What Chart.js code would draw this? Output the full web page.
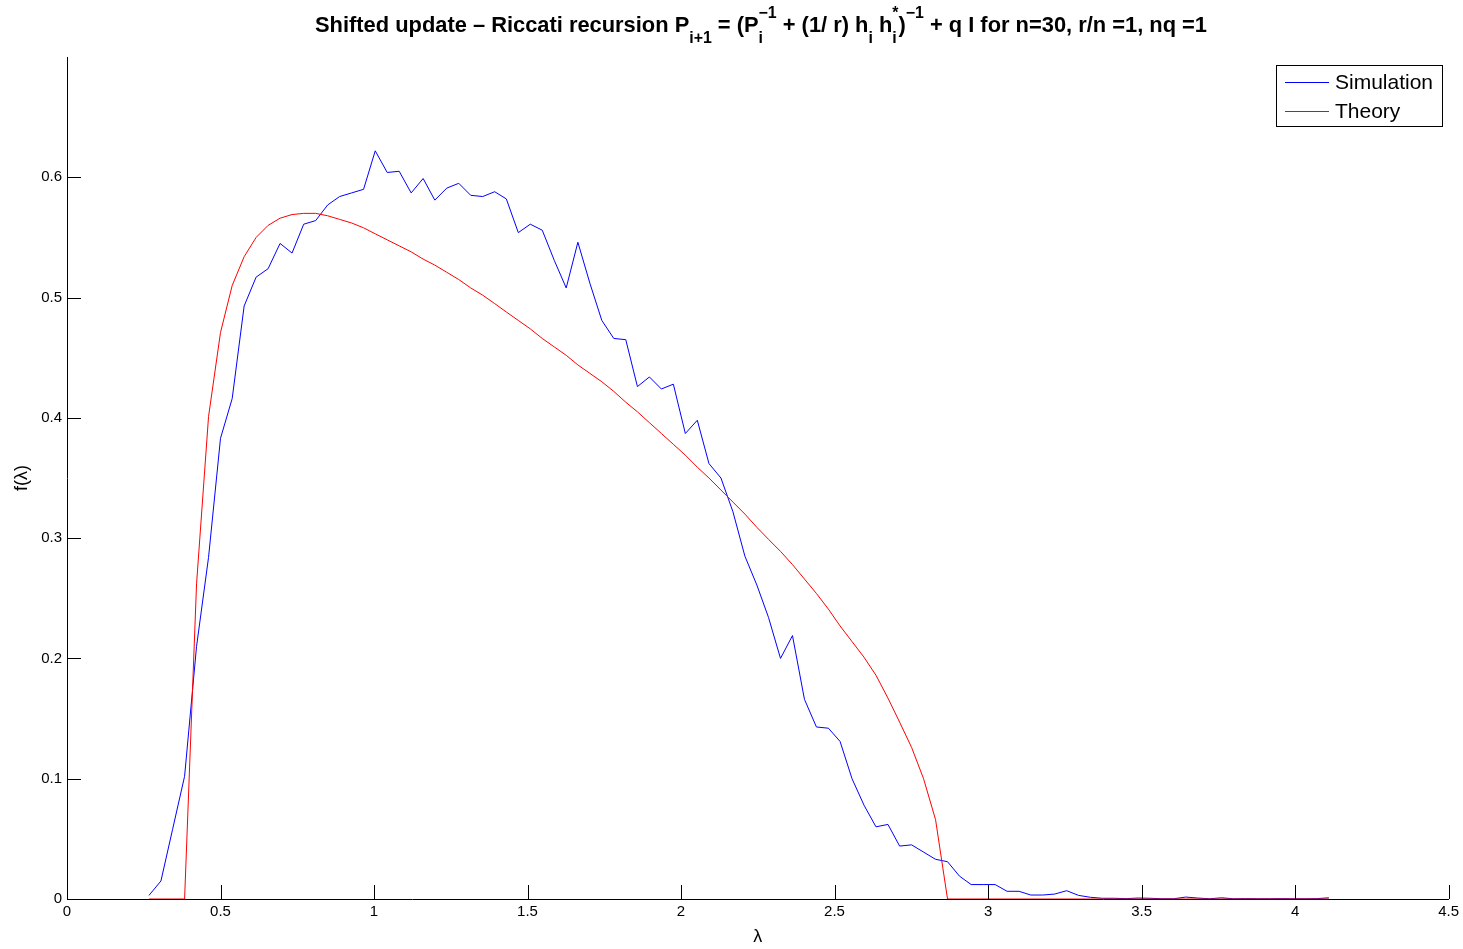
<!DOCTYPE html>
<html>
<head>
<meta charset="utf-8">
<title>Shifted update - Riccati recursion</title>
<script src="https://cdn.jsdelivr.net/npm/chart.js@4"></script>
<style>
  body { margin: 0; background: #fff; }
  canvas { display: block; }
</style>
</head>
<body>
<canvas id="chart" width="1463" height="949"></canvas>
<script>
// bin centres (lambda) shared by both curves
const lambdas = [
  0.267, 0.306, 0.344, 0.383, 0.422, 0.461, 0.500, 0.538, 0.577, 0.616,
  0.655, 0.694, 0.733, 0.771, 0.810, 0.849, 0.888, 0.927, 0.966, 1.004,
  1.043, 1.082, 1.121, 1.160, 1.198, 1.237, 1.276, 1.315, 1.354, 1.393,
  1.431, 1.470, 1.509, 1.548, 1.587, 1.626, 1.664, 1.703, 1.742, 1.781,
  1.820, 1.858, 1.897, 1.936, 1.975, 2.014, 2.053, 2.091, 2.130, 2.169,
  2.208, 2.247, 2.285, 2.324, 2.363, 2.402, 2.441, 2.480, 2.518, 2.557,
  2.596, 2.635, 2.674, 2.712, 2.751, 2.790, 2.829, 2.868, 2.907, 2.945,
  2.984, 3.023, 3.062, 3.101, 3.139, 3.178, 3.217, 3.256, 3.295, 3.334,
  3.372, 3.411, 3.450, 3.489, 3.528, 3.566, 3.605, 3.644, 3.683, 3.722,
  3.761, 3.799, 3.838, 3.877, 3.916, 3.955, 3.993, 4.032, 4.071, 4.110
];

const simulation = [
  0.003, 0.015, 0.058, 0.102, 0.210, 0.284, 0.383, 0.416, 0.493, 0.517,
  0.524, 0.545, 0.537, 0.561, 0.564, 0.577, 0.584, 0.587, 0.590, 0.622,
  0.604, 0.605, 0.587, 0.599, 0.581, 0.591, 0.595, 0.585, 0.584, 0.588,
  0.582, 0.554, 0.561, 0.556, 0.531, 0.508, 0.546, 0.512, 0.481, 0.466,
  0.465, 0.426, 0.434, 0.424, 0.428, 0.387, 0.398, 0.362, 0.350, 0.322,
  0.285, 0.261, 0.234, 0.200, 0.219, 0.166, 0.143, 0.142, 0.131, 0.100,
  0.078, 0.060, 0.062, 0.044, 0.045, 0.039, 0.033, 0.031, 0.019, 0.012,
  0.012, 0.012, 0.0064, 0.0064, 0.0033, 0.0033, 0.0041, 0.0069, 0.003, 0.0014,
  0.0006, 0.0006, 0.0003, 0.0008, 0.0006, 0.0002, 0.0002, 0.0016, 0.0008, 0.0002,
  0.001, 0.0002, 0.0003, 0.0002, 0.0002, 0.0003, 0.0002, 0.0002, 0.0003, 0.001
];

const theory = [
  0, 0, 0, 0, 0.262, 0.401, 0.471, 0.510, 0.534, 0.550,
  0.560, 0.566, 0.569, 0.570, 0.570, 0.568, 0.565, 0.562, 0.558, 0.553,
  0.548, 0.543, 0.538, 0.532, 0.527, 0.521, 0.515, 0.508, 0.502, 0.495,
  0.488, 0.481, 0.474, 0.466, 0.459, 0.452, 0.444, 0.437, 0.430, 0.422,
  0.413, 0.405, 0.396, 0.387, 0.378, 0.369, 0.359, 0.350, 0.340, 0.330,
  0.320, 0.309, 0.299, 0.289, 0.278, 0.266, 0.254, 0.241, 0.227, 0.214,
  0.201, 0.186, 0.167, 0.147, 0.126, 0.100, 0.066, 0, 0, 0,
  0, 0, 0, 0, 0, 0, 0, 0, 0, 0,
  0, 0, 0, 0, 0, 0, 0, 0, 0, 0,
  0, 0, 0, 0, 0, 0, 0, 0, 0, 0
];

const xTickValues = [0, 0.5, 1, 1.5, 2, 2.5, 3, 3.5, 4, 4.5];
const yTickValues = [0, 0.1, 0.2, 0.3, 0.4, 0.5, 0.6];

const seriesNames = ['Simulation', 'Theory'];
const seriesColors = ['#0000ff', '#ff0000'];

const titleParts = [
  { text: 'Shifted update \u2013 Riccati recursion P', sub: 'i+1' },
  { text: ' = (P', sub: 'i', sup: '\u22121' },
  { text: ' + (1/ r) h', sub: 'i' },
  { text: ' h', sub: 'i', sup: '*' },
  { text: ')', sup: '\u22121' },
  { text: ' + q I for n=30, r/n =1, nq =1' }
];

const FONT = '"Liberation Sans", Arial, Helvetica, sans-serif';

// title with sub/superscripts, squeezed to the width of the original
const richTitle = {
  id: 'richTitle',
  afterDraw(chart) {
    const ctx = chart.ctx;
    const big = 'bold 22px ' + FONT;
    const small = 'bold 16px ' + FONT;
    let total = 0;
    titleParts.forEach(p => {
      ctx.font = big;
      total += ctx.measureText(p.text).width;
      ctx.font = small;
      total += Math.max(p.sub ? ctx.measureText(p.sub).width : 0,
                        p.sup ? ctx.measureText(p.sup).width : 0);
    });
    const targetW = 892;
    ctx.save();
    ctx.translate(761 - targetW / 2, 0);
    ctx.scale(targetW / total, 1);
    ctx.fillStyle = '#000';
    ctx.textBaseline = 'alphabetic';
    ctx.textAlign = 'left';
    const base = 32;
    let x = 0;
    titleParts.forEach(p => {
      ctx.font = big;
      ctx.fillText(p.text, x, base);
      x += ctx.measureText(p.text).width;
      ctx.font = small;
      let w = 0;
      if (p.sub) { ctx.fillText(p.sub, x, base + 11); w = ctx.measureText(p.sub).width; }
      if (p.sup) { ctx.fillText(p.sup, x, base - 14); w = Math.max(w, ctx.measureText(p.sup).width); }
      x += w;
    });
    ctx.restore();
  }
};

// inward tick marks, matlab style
const inwardTicks = {
  id: 'inwardTicks',
  afterDraw(chart) {
    const ctx = chart.ctx;
    const { x, y } = chart.scales;
    const area = chart.chartArea;
    const len = 14;
    ctx.save();
    ctx.strokeStyle = '#000';
    ctx.lineWidth = 1;
    ctx.beginPath();
    xTickValues.forEach(v => {
      const px = Math.round(x.getPixelForValue(v)) + 0.5;
      ctx.moveTo(px, area.bottom);
      ctx.lineTo(px, area.bottom - len);
    });
    yTickValues.forEach(v => {
      const py = Math.round(y.getPixelForValue(v)) + 0.5;
      ctx.moveTo(area.left, py);
      ctx.lineTo(area.left + len, py);
    });
    ctx.stroke();
    ctx.restore();
  }
};

// boxed legend inside the plot, top right
const boxLegend = {
  id: 'boxLegend',
  afterDraw(chart) {
    const ctx = chart.ctx;
    const bx = 1276, by = 65, bw = 166, bh = 61;
    ctx.save();
    ctx.fillStyle = '#fff';
    ctx.fillRect(bx, by, bw, bh);
    ctx.strokeStyle = '#000';
    ctx.lineWidth = 1;
    ctx.strokeRect(bx + 0.5, by + 0.5, bw, bh);
    ctx.font = '21px ' + FONT;
    ctx.textBaseline = 'middle';
    ctx.textAlign = 'left';
    const rows = [82, 111];
    seriesNames.forEach((name, i) => {
      ctx.strokeStyle = seriesColors[i];
      ctx.beginPath();
      ctx.moveTo(1285, rows[i] + 0.5);
      ctx.lineTo(1329, rows[i] + 0.5);
      ctx.stroke();
      ctx.fillStyle = '#000';
      ctx.fillText(name, 1335, rows[i] + 1);
    });
    ctx.restore();
  }
};

const ctx = document.getElementById('chart').getContext('2d');
new Chart(ctx, {
  type: 'line',
  data: {
    datasets: [{
      label: seriesNames[0],
      data: lambdas.map((l, i) => ({ x: l, y: simulation[i] })),
      borderColor: seriesColors[0],
      borderWidth: 1,
      pointRadius: 0,
      tension: 0,
      fill: false,
      order: 1
    }, {
      label: seriesNames[1],
      data: lambdas.map((l, i) => ({ x: l, y: theory[i] })),
      borderColor: seriesColors[1],
      borderWidth: 1,
      pointRadius: 0,
      tension: 0,
      fill: false,
      order: 0
    }]
  },
  options: {
    responsive: false,
    animation: false,
    devicePixelRatio: 1,
    layout: { padding: { left: 0, right: 13, top: 57, bottom: 0 } },
    plugins: {
      legend: { display: false },
      title: { display: false },
      tooltip: { enabled: false }
    },
    scales: {
      x: {
        type: 'linear',
        min: 0,
        max: 4.5,
        afterBuildTicks: s => { s.ticks = xTickValues.map(v => ({ value: v })); },
        afterFit: s => { s.height = 50; },
        grid: { display: false, drawTicks: false },
        border: { display: true, color: '#000', width: 1 },
        ticks: { color: '#000', padding: 4, font: { family: FONT, size: 15 }, callback: v => String(v) },
        title: { display: true, text: '\u03bb', color: '#000', padding: { top: 0, bottom: 1 }, font: { family: FONT, size: 18 } }
      },
      y: {
        min: 0,
        max: 0.7,
        afterBuildTicks: s => { s.ticks = yTickValues.map(v => ({ value: v })); },
        afterFit: s => { s.width = 67; },
        grid: { display: false, drawTicks: false },
        border: { display: true, color: '#000', width: 1 },
        ticks: { color: '#000', padding: 5, font: { family: FONT, size: 15 }, callback: v => String(v) },
        title: { display: true, text: 'f(\u03bb)', color: '#000', padding: { top: 11, bottom: 0 }, font: { family: FONT, size: 18 } }
      }
    }
  },
  plugins: [richTitle, inwardTicks, boxLegend]
});
</script>
</body>
</html>
